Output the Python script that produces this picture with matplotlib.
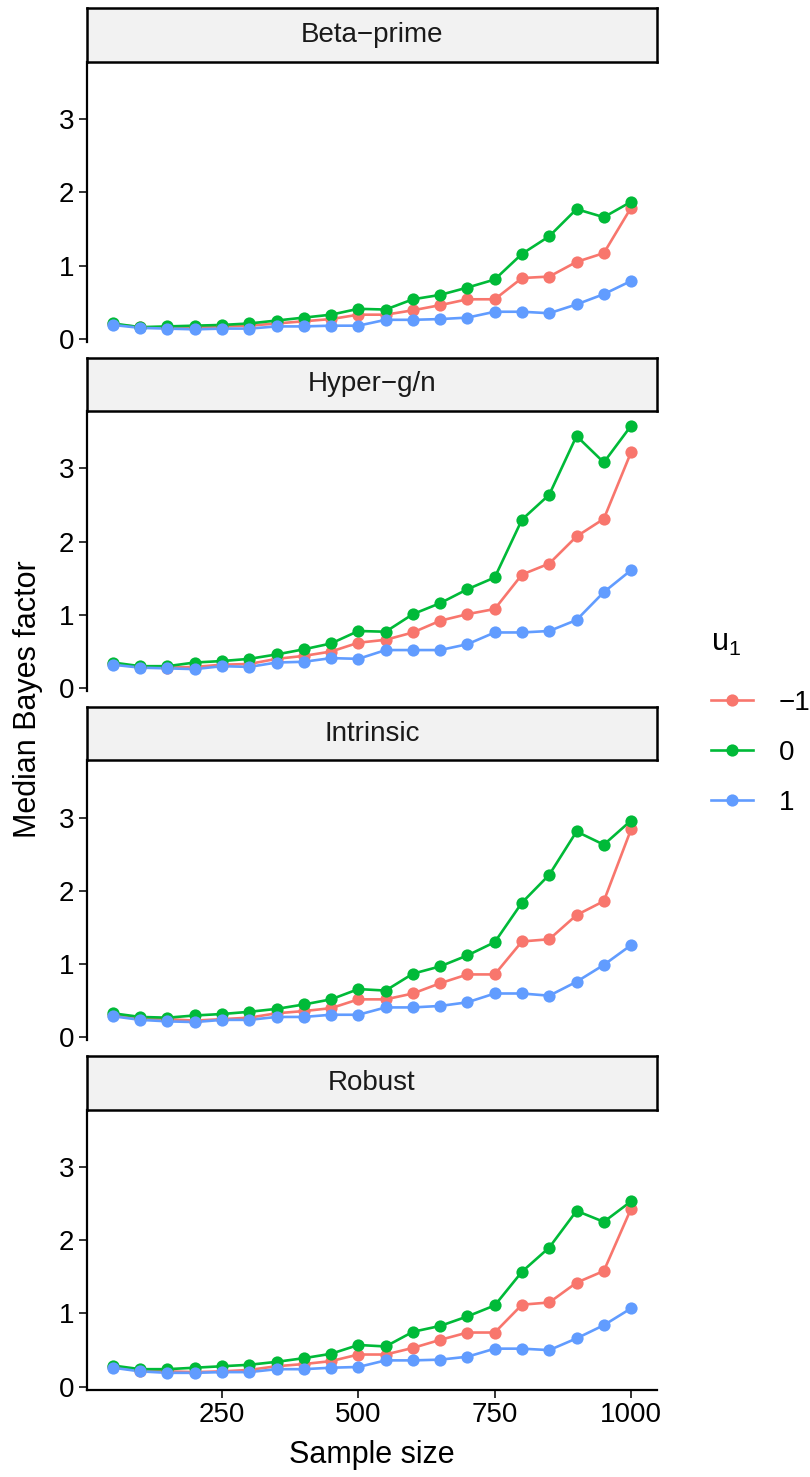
import matplotlib
matplotlib.use("Agg")
import matplotlib.pyplot as plt
from matplotlib.lines import Line2D

plt.rcParams['font.family'] = ['Liberation Sans', 'DejaVu Sans']

# ---------------- data ----------------
sample_sizes = [50, 100, 150, 200, 250, 300, 350, 400, 450, 500,
                550, 600, 650, 700, 750, 800, 850, 900, 950, 1000]
priors = ["Beta\u2212prime", "Hyper\u2212g/n", "Intrinsic", "Robust"]
u1_labels = ["\u22121", "0", "1"]
u1_colors = ["#F8766D", "#00BA38", "#619CFF"]

# Beta-prime
beta_m1 = [0.20, 0.16, 0.15, 0.16, 0.17, 0.18, 0.21, 0.24, 0.27, 0.33,
           0.33, 0.39, 0.46, 0.54, 0.54, 0.83, 0.85, 1.05, 1.17, 1.79]
beta_0 = [0.21, 0.16, 0.17, 0.18, 0.19, 0.21, 0.25, 0.29, 0.33, 0.41,
          0.40, 0.54, 0.60, 0.70, 0.81, 1.16, 1.40, 1.77, 1.66, 1.87]
beta_1 = [0.19, 0.15, 0.14, 0.13, 0.14, 0.14, 0.17, 0.17, 0.18, 0.18,
          0.26, 0.26, 0.27, 0.29, 0.37, 0.37, 0.35, 0.47, 0.61, 0.79]

# Hyper-g/n
hyper_m1 = [0.33, 0.29, 0.28, 0.29, 0.32, 0.33, 0.40, 0.44, 0.50, 0.62,
            0.66, 0.76, 0.92, 1.01, 1.08, 1.55, 1.70, 2.07, 2.31, 3.22]
hyper_0 = [0.35, 0.30, 0.30, 0.35, 0.37, 0.40, 0.46, 0.53, 0.61, 0.78,
           0.77, 1.01, 1.16, 1.35, 1.51, 2.30, 2.64, 3.44, 3.08, 3.58]
hyper_1 = [0.32, 0.28, 0.27, 0.26, 0.30, 0.29, 0.35, 0.36, 0.41, 0.40,
           0.52, 0.52, 0.52, 0.60, 0.76, 0.76, 0.78, 0.93, 1.31, 1.61]

# Intrinsic
intr_m1 = [0.31, 0.26, 0.25, 0.23, 0.25, 0.27, 0.33, 0.36, 0.40, 0.52,
           0.52, 0.60, 0.74, 0.86, 0.86, 1.31, 1.34, 1.67, 1.86, 2.84]
intr_0 = [0.33, 0.28, 0.27, 0.30, 0.32, 0.35, 0.39, 0.45, 0.52, 0.66,
          0.64, 0.87, 0.97, 1.12, 1.30, 1.84, 2.22, 2.81, 2.63, 2.96]
intr_1 = [0.29, 0.24, 0.22, 0.21, 0.24, 0.24, 0.28, 0.28, 0.31, 0.31,
          0.41, 0.41, 0.43, 0.48, 0.60, 0.60, 0.57, 0.76, 0.99, 1.26]

# Robust
rob_m1 = [0.27, 0.22, 0.21, 0.20, 0.21, 0.23, 0.28, 0.31, 0.35, 0.44,
          0.44, 0.53, 0.64, 0.74, 0.74, 1.12, 1.15, 1.42, 1.58, 2.43]
rob_0 = [0.29, 0.24, 0.24, 0.26, 0.28, 0.30, 0.34, 0.39, 0.45, 0.57,
         0.55, 0.75, 0.83, 0.96, 1.11, 1.57, 1.90, 2.40, 2.25, 2.53]
rob_1 = [0.26, 0.21, 0.19, 0.19, 0.20, 0.20, 0.24, 0.24, 0.26, 0.27,
         0.36, 0.36, 0.37, 0.41, 0.52, 0.52, 0.50, 0.66, 0.84, 1.07]

series = {
    priors[0]: [beta_m1, beta_0, beta_1],
    priors[1]: [hyper_m1, hyper_0, hyper_1],
    priors[2]: [intr_m1, intr_0, intr_1],
    priors[3]: [rob_m1, rob_0, rob_1],
}
x_ticks = [250, 500, 750, 1000]
y_ticks = [0, 1, 2, 3]

# ---------------- layout ----------------
W, H = 810, 1477
fig = plt.figure(figsize=(W / 100, H / 100), dpi=100)
fig.patch.set_facecolor("white")

left_px, right_px = 87, 657
strip_h, plot_h, step = 53.5, 280, 349.3
LW = 1.9
MS = 8.8
TICK_FS = 20
TITLE_FS = 22

for i, prior in enumerate(priors):
    strip_top = 8.3 + i * step
    plot_top = strip_top + strip_h
    plot_bot = plot_top + plot_h
    ax = fig.add_axes([left_px / W, 1 - plot_bot / H,
                       (right_px - left_px) / W, plot_h / H])
    for vals, col in zip(series[prior], u1_colors):
        ax.plot(sample_sizes, vals, color=col, lw=LW, zorder=2,
                solid_capstyle="butt")
    for vals, col in zip(series[prior], u1_colors):
        ax.plot(sample_sizes, vals, color=col, lw=0, marker="o",
                ms=MS, markeredgewidth=0, zorder=3)
    ax.set_xlim(2.5, 1047.5)
    ax.set_ylim(-0.04, 3.78)
    ax.set_yticks(y_ticks)
    ax.set_xticks(x_ticks)
    for s in ["top", "right"]:
        ax.spines[s].set_visible(False)
    ax.spines["left"].set_linewidth(1.6)
    ax.spines["bottom"].set_linewidth(1.6)
    ax.tick_params(axis="y", length=6, width=1.4, color="#333333",
                   labelsize=TICK_FS, labelcolor="black", pad=3)
    if i == len(priors) - 1:
        ax.tick_params(axis="x", length=6, width=1.4, color="#333333",
                       labelsize=TICK_FS, labelcolor="black", pad=3)
    else:
        ax.spines["bottom"].set_visible(False)
        ax.tick_params(axis="x", length=0, labelbottom=False)

    sax = fig.add_axes([left_px / W, 1 - plot_top / H,
                        (right_px - left_px) / W, strip_h / H])
    sax.set_facecolor("#F2F2F2")
    sax.set_xticks([])
    sax.set_yticks([])
    for s in sax.spines.values():
        s.set_linewidth(1.8)
        s.set_color("black")
    sax.text(0.5, 0.5, prior, ha="center", va="center",
             fontsize=TICK_FS, color="#1A1A1A", transform=sax.transAxes)

fig.text(28 / W, 1 - 699 / H, "Median Bayes factor", rotation=90,
         ha="center", va="center", fontsize=TITLE_FS)
fig.text(372 / W, 1 - 1455 / H, "Sample size", ha="center",
         va="center", fontsize=TITLE_FS)

handles = [Line2D([], [], color=c, lw=LW, marker="o", ms=MS,
                  markeredgewidth=0) for c in u1_colors]
leg = fig.legend(handles, u1_labels, title="$\\mathregular{u_1}$",
                 loc="upper left", bbox_to_anchor=(711 / W, 1 - 628 / H),
                 frameon=False, fontsize=TICK_FS, title_fontsize=TITLE_FS,
                 handlelength=1.5, handletextpad=0.95, labelspacing=0.86,
                 borderaxespad=0, borderpad=0)
leg._legend_box.align = "left"
leg._legend_box.sep = 23

fig.savefig("out.png", dpi=100)
